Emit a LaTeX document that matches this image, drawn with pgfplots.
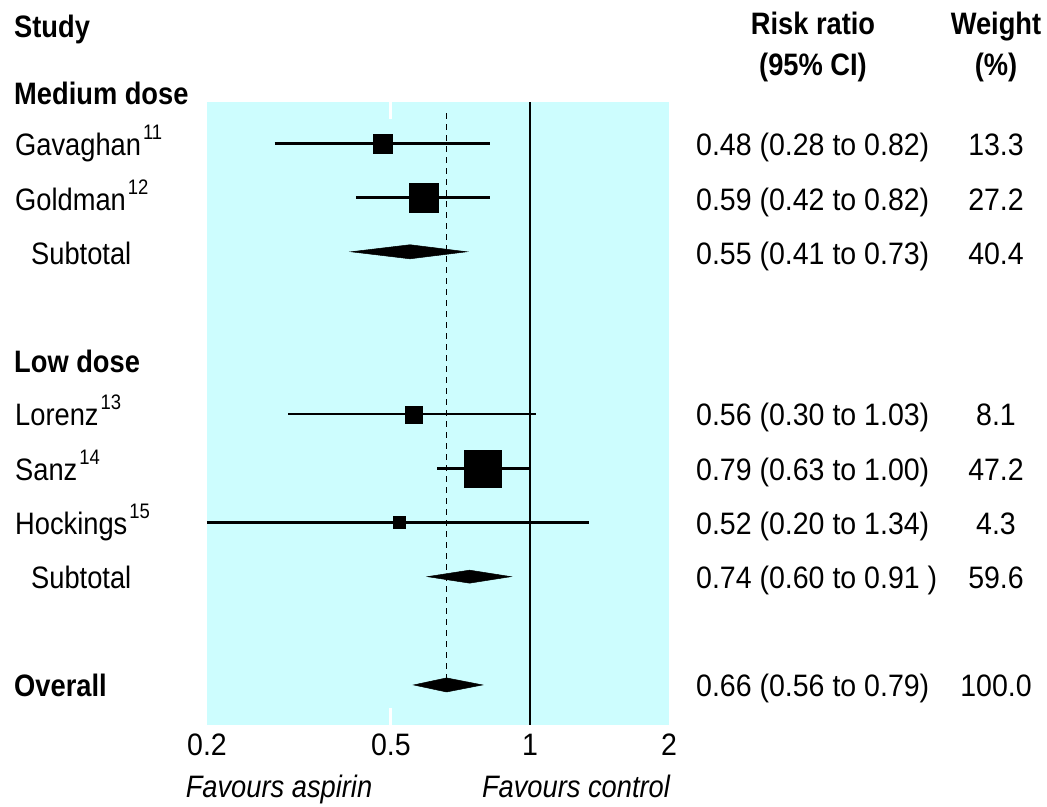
\documentclass[border=0pt]{standalone}
\usepackage{pgfplots}
\pgfplotsset{compat=1.18}
\usepackage{fontspec}
\setmainfont{Liberation Sans}[FakeStretch=0.88]
\newfontfamily\numfont{Liberation Sans}[FakeStretch=0.92]
\definecolor{bgcyan}{RGB}{205,253,254}
\newcommand\F{\fontsize{31bp}{37bp}\selectfont}
\newcommand\sups[1]{\kern2bp\raisebox{16bp}{\fontsize{21bp}{21bp}\selectfont #1}}
\begin{document}
\begin{tikzpicture}
\begin{axis}[
  at={(207bp,-725bp)}, anchor=south west,
  scale only axis, width=462bp, height=623bp,
  xmode=log, xmin=0.2, xmax=2,
  ymin=0.234, ymax=11.74, y dir=reverse,
  axis background/.style={fill=bgcyan},
  axis line style={draw=none},
  ytick=\empty,
  xtick={0.2,0.5,1,2}, xticklabels={0.2,0.5,1,2},
  xminorticks=false,
  major tick length=0pt,
  xticklabel style={font=\F\numfont, anchor=base, inner sep=0pt, yshift=-30bp},
  extra x ticks={0.5},
  extra x tick style={xticklabel={}, major tick length=17bp, tick style={white, line width=3bp}, tick align=inside},
  clip=false,
]
% reference lines
\addplot[black, line width=2.5bp] coordinates {(1,0.234) (1,11.74)};
\addplot[black, line width=1.8bp, dash pattern=on 6bp off 5bp] coordinates {(0.66,0.44) (0.66,11)};
% confidence intervals
\addplot[black, line width=2.3bp] coordinates {(0.28,1) (0.82,1)};
\addplot[black, line width=2.3bp] coordinates {(0.42,2) (0.82,2)};
\addplot[black, line width=2.3bp] coordinates {(0.30,6) (1.03,6)};
\addplot[black, line width=2.3bp] coordinates {(0.63,7) (1.00,7)};
\addplot[black, line width=2.3bp] coordinates {(0.20,8) (1.34,8)};
% study estimates (square size by weight)
\addplot[only marks, mark=square*, mark size=9.5bp, black] coordinates {(0.48,1)};
\addplot[only marks, mark=square*, mark size=14.5bp, black] coordinates {(0.59,2)};
\addplot[only marks, mark=square*, mark size=8.5bp, black] coordinates {(0.56,6)};
\addplot[only marks, mark=square*, mark size=18.5bp, black] coordinates {(0.79,7)};
\addplot[only marks, mark=square*, mark size=6bp, black] coordinates {(0.52,8)};
% pooled diamonds
\addplot[black, fill=black, line width=0.5bp] coordinates {(0.41,3) (0.55,2.87) (0.73,3) (0.55,3.13)} --cycle;
\addplot[black, fill=black, line width=0.5bp] coordinates {(0.60,9) (0.74,8.88) (0.91,9) (0.74,9.12)} --cycle;
\addplot[black, fill=black, line width=0.5bp] coordinates {(0.56,11) (0.66,10.87) (0.79,11) (0.66,11.13)} --cycle;
\end{axis}
\begin{scope}[every node/.style={inner sep=0pt, font=\F}]
% headers
\node[anchor=base west, font=\F\bfseries] at (14bp,-37bp) {Study};
\node[anchor=base, font=\F\bfseries] at (813bp,-34bp) {Risk ratio};
\node[anchor=base, font=\F\bfseries] at (813bp,-75bp) {(95\% CI)};
\node[anchor=base, font=\F\bfseries] at (996bp,-34bp) {Weight};
\node[anchor=base, font=\F\bfseries] at (996bp,-75bp) {(\%)};
% left labels
\node[anchor=base west, font=\F\bfseries] at (14bp,-104bp) {Medium dose};
\node[anchor=base west] at (15bp,-155bp) {Gavaghan\sups{11}};
\node[anchor=base west] at (15bp,-210bp) {Goldman\sups{12}};
\node[anchor=base west] at (31bp,-264bp) {Subtotal};
\node[anchor=base west, font=\F\bfseries] at (14bp,-372bp) {Low dose};
\node[anchor=base west] at (15bp,-425bp) {Lorenz\sups{13}};
\node[anchor=base west] at (15bp,-480bp) {Sanz\sups{14}};
\node[anchor=base west] at (15bp,-534bp) {Hockings\sups{15}};
\node[anchor=base west] at (31bp,-588bp) {Subtotal};
\node[anchor=base west, font=\F\bfseries] at (14bp,-696bp) {Overall};
% risk ratios
\begin{scope}[every node/.append style={font=\F\numfont}]
\node[anchor=base west] at (696bp,-155bp) {0.48 (0.28 to 0.82)};
\node[anchor=base west] at (696bp,-210bp) {0.59 (0.42 to 0.82)};
\node[anchor=base west] at (696bp,-264bp) {0.55 (0.41 to 0.73)};
\node[anchor=base west] at (696bp,-425bp) {0.56 (0.30 to 1.03)};
\node[anchor=base west] at (696bp,-480bp) {0.79 (0.63 to 1.00)};
\node[anchor=base west] at (696bp,-534bp) {0.52 (0.20 to 1.34)};
\node[anchor=base west] at (696bp,-588bp) {0.74 (0.60 to 0.91 )};
\node[anchor=base west] at (696bp,-696bp) {0.66 (0.56 to 0.79)};
% weights
\node[anchor=base] at (996bp,-155bp) {13.3};
\node[anchor=base] at (996bp,-210bp) {27.2};
\node[anchor=base] at (996bp,-264bp) {40.4};
\node[anchor=base] at (996bp,-425bp) {8.1};
\node[anchor=base] at (996bp,-480bp) {47.2};
\node[anchor=base] at (996bp,-534bp) {4.3};
\node[anchor=base] at (996bp,-588bp) {59.6};
\node[anchor=base] at (996bp,-696bp) {100.0};
\end{scope}
% favours labels
\node[anchor=base, font=\F\itshape] at (279bp,-797bp) {Favours aspirin};
\node[anchor=base, font=\F\itshape] at (576bp,-797bp) {Favours control};
\end{scope}
\pgfresetboundingbox
\path[use as bounding box] (0,0) rectangle (1047bp,-807bp);
\end{tikzpicture}
\end{document}
